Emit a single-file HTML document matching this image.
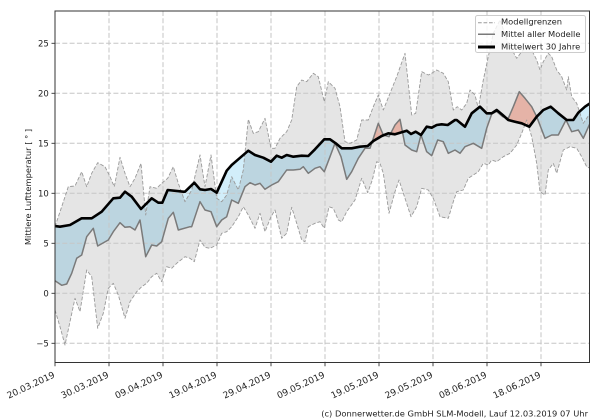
<!DOCTYPE html>
<html>
<head>
<meta charset="utf-8">
<style>
  html, body { margin: 0; padding: 0; background: #ffffff; }
  body { width: 600px; height: 420px; overflow: hidden; }
  svg { display: block; }
  text { font-family: "DejaVu Sans", "Liberation Sans", sans-serif; fill: #222; }
</style>
</head>
<body>
<svg width="600" height="420" viewBox="0 0 600 420" xmlns="http://www.w3.org/2000/svg">
  <defs>
    <clipPath id="plot">
      <rect x="55" y="11" width="534.5" height="351.5"/>
    </clipPath>
    <clipPath id="belowBlack">
      <path d="M55,226 L60,226.7 L70,225 L81.7,218.3 L91.7,218.3 L101.7,211.7 L113.3,198.3 L120,197.7 L125,191.7 L131.7,196.7 L141,209 L151.7,198.3 L158.3,202.7 L162.3,202.7 L167.7,190 L183.3,191.7 L185,191.7 L194.3,182.7 L200,189.3 L205,190 L211,189 L216.7,192.7 L226.7,170.7 L231.7,165 L238.3,159.3 L248.3,150.7 L255,155 L263.3,157.7 L271,161.7 L276.7,155.7 L281.7,157.7 L286.7,155 L293.3,156.7 L301.7,155.7 L308.3,156 L315,149.3 L324.3,139.3 L330,139.3 L335.7,143.3 L341.7,148.3 L351.7,148.3 L360,146.7 L367.7,146 L373.3,141 L381.7,136 L388.3,133.3 L395,134.3 L401.7,132.3 L406.7,130.7 L411,134 L415.7,131.7 L421,135 L426.7,126.7 L431.7,127.7 L436.7,125 L441.7,124.3 L447.7,125 L455,120 L456.7,120 L465,126.7 L471.7,113.3 L480,106.7 L486.7,113.3 L491.7,113.3 L496.7,110 L502.7,115 L508.3,120 L515,121.7 L521.7,123.3 L529.3,126.7 L536.7,116.7 L543.3,110 L550.7,106.7 L558.3,113.3 L566.7,120 L573.3,120 L578.3,112.7 L585,106.7 L590,103.3 L590,363 L55,363 Z"/>
    </clipPath>
    <clipPath id="aboveBlack">
      <path d="M55,226 L60,226.7 L70,225 L81.7,218.3 L91.7,218.3 L101.7,211.7 L113.3,198.3 L120,197.7 L125,191.7 L131.7,196.7 L141,209 L151.7,198.3 L158.3,202.7 L162.3,202.7 L167.7,190 L183.3,191.7 L185,191.7 L194.3,182.7 L200,189.3 L205,190 L211,189 L216.7,192.7 L226.7,170.7 L231.7,165 L238.3,159.3 L248.3,150.7 L255,155 L263.3,157.7 L271,161.7 L276.7,155.7 L281.7,157.7 L286.7,155 L293.3,156.7 L301.7,155.7 L308.3,156 L315,149.3 L324.3,139.3 L330,139.3 L335.7,143.3 L341.7,148.3 L351.7,148.3 L360,146.7 L367.7,146 L373.3,141 L381.7,136 L388.3,133.3 L395,134.3 L401.7,132.3 L406.7,130.7 L411,134 L415.7,131.7 L421,135 L426.7,126.7 L431.7,127.7 L436.7,125 L441.7,124.3 L447.7,125 L455,120 L456.7,120 L465,126.7 L471.7,113.3 L480,106.7 L486.7,113.3 L491.7,113.3 L496.7,110 L502.7,115 L508.3,120 L515,121.7 L521.7,123.3 L529.3,126.7 L536.7,116.7 L543.3,110 L550.7,106.7 L558.3,113.3 L566.7,120 L573.3,120 L578.3,112.7 L585,106.7 L590,103.3 L590,10 L55,10 Z"/>
    </clipPath>
  </defs>

  <g clip-path="url(#plot)">
    <!-- between black and mean: blue where mean below black -->
    <g clip-path="url(#belowBlack)">
      <path fill="#d2eefa" d="M55,226 L60,226.7 L70,225 L81.7,218.3 L91.7,218.3 L101.7,211.7 L113.3,198.3 L120,197.7 L125,191.7 L131.7,196.7 L141,209 L151.7,198.3 L158.3,202.7 L162.3,202.7 L167.7,190 L183.3,191.7 L185,191.7 L194.3,182.7 L200,189.3 L205,190 L211,189 L216.7,192.7 L226.7,170.7 L231.7,165 L238.3,159.3 L248.3,150.7 L255,155 L263.3,157.7 L271,161.7 L276.7,155.7 L281.7,157.7 L286.7,155 L293.3,156.7 L301.7,155.7 L308.3,156 L315,149.3 L324.3,139.3 L330,139.3 L335.7,143.3 L341.7,148.3 L351.7,148.3 L360,146.7 L367.7,146 L373.3,141 L381.7,136 L388.3,133.3 L395,134.3 L401.7,132.3 L406.7,130.7 L411,134 L415.7,131.7 L421,135 L426.7,126.7 L431.7,127.7 L436.7,125 L441.7,124.3 L447.7,125 L455,120 L456.7,120 L465,126.7 L471.7,113.3 L480,106.7 L486.7,113.3 L491.7,113.3 L496.7,110 L502.7,115 L508.3,120 L515,121.7 L521.7,123.3 L529.3,126.7 L536.7,116.7 L543.3,110 L550.7,106.7 L558.3,113.3 L566.7,120 L573.3,120 L578.3,112.7 L585,106.7 L590,103.3 L590,123.3 L583.3,138.3 L578.3,130 L571.7,131.7 L566,120 L558.3,135 L551.7,135 L545,138.3 L536.7,116.7 L531.7,106.7 L525,98.3 L519.3,91.7 L513.3,106.7 L508.3,118.3 L502.7,116.7 L496.7,111.5 L491.7,114 L486.7,128.3 L481.7,148.3 L473.3,143.3 L465,146.7 L460,153.3 L455,150 L448.3,153.3 L443.3,141.7 L437.7,140 L431.7,155.7 L426.7,151.7 L421,135 L416.7,151.7 L411.7,150 L405,145 L400,119.3 L395,125 L389,136.7 L383.3,135 L378.3,123.3 L370,148.3 L365,148.3 L358.3,158.3 L351.7,171.7 L346.7,179.3 L341,156.7 L335,143.3 L330,156.7 L324.3,171.7 L320,166.7 L315,168.3 L308.3,173.3 L303.3,166.7 L300,169.3 L293.3,170 L286.7,170 L278.3,181.7 L271.7,185 L265,189.3 L260,183.3 L255,185 L250,182.7 L245,186.7 L238.3,203.3 L231.7,200 L226.7,216.7 L221.7,220 L216.7,226.7 L211,211.7 L205,210 L200,201.7 L191.7,226.7 L190,226.7 L178.3,230 L173.3,212.3 L168.3,218.3 L161.7,241.7 L156.7,246 L151.7,245 L145.7,256.7 L140,220 L135,230 L130,226.7 L125,227.3 L120,222.7 L113.3,231.7 L108.3,240 L97.7,246 L93.3,228.3 L86.7,236.7 L81.7,255 L76.7,258.3 L71.7,273.3 L66.7,284 L61.7,285.3 L55,280.7 Z"/>
    </g>
    <g clip-path="url(#aboveBlack)">
      <path fill="#ffc8ba" d="M55,226 L60,226.7 L70,225 L81.7,218.3 L91.7,218.3 L101.7,211.7 L113.3,198.3 L120,197.7 L125,191.7 L131.7,196.7 L141,209 L151.7,198.3 L158.3,202.7 L162.3,202.7 L167.7,190 L183.3,191.7 L185,191.7 L194.3,182.7 L200,189.3 L205,190 L211,189 L216.7,192.7 L226.7,170.7 L231.7,165 L238.3,159.3 L248.3,150.7 L255,155 L263.3,157.7 L271,161.7 L276.7,155.7 L281.7,157.7 L286.7,155 L293.3,156.7 L301.7,155.7 L308.3,156 L315,149.3 L324.3,139.3 L330,139.3 L335.7,143.3 L341.7,148.3 L351.7,148.3 L360,146.7 L367.7,146 L373.3,141 L381.7,136 L388.3,133.3 L395,134.3 L401.7,132.3 L406.7,130.7 L411,134 L415.7,131.7 L421,135 L426.7,126.7 L431.7,127.7 L436.7,125 L441.7,124.3 L447.7,125 L455,120 L456.7,120 L465,126.7 L471.7,113.3 L480,106.7 L486.7,113.3 L491.7,113.3 L496.7,110 L502.7,115 L508.3,120 L515,121.7 L521.7,123.3 L529.3,126.7 L536.7,116.7 L543.3,110 L550.7,106.7 L558.3,113.3 L566.7,120 L573.3,120 L578.3,112.7 L585,106.7 L590,103.3 L590,123.3 L583.3,138.3 L578.3,130 L571.7,131.7 L566,120 L558.3,135 L551.7,135 L545,138.3 L536.7,116.7 L531.7,106.7 L525,98.3 L519.3,91.7 L513.3,106.7 L508.3,118.3 L502.7,116.7 L496.7,111.5 L491.7,114 L486.7,128.3 L481.7,148.3 L473.3,143.3 L465,146.7 L460,153.3 L455,150 L448.3,153.3 L443.3,141.7 L437.7,140 L431.7,155.7 L426.7,151.7 L421,135 L416.7,151.7 L411.7,150 L405,145 L400,119.3 L395,125 L389,136.7 L383.3,135 L378.3,123.3 L370,148.3 L365,148.3 L358.3,158.3 L351.7,171.7 L346.7,179.3 L341,156.7 L335,143.3 L330,156.7 L324.3,171.7 L320,166.7 L315,168.3 L308.3,173.3 L303.3,166.7 L300,169.3 L293.3,170 L286.7,170 L278.3,181.7 L271.7,185 L265,189.3 L260,183.3 L255,185 L250,182.7 L245,186.7 L238.3,203.3 L231.7,200 L226.7,216.7 L221.7,220 L216.7,226.7 L211,211.7 L205,210 L200,201.7 L191.7,226.7 L190,226.7 L178.3,230 L173.3,212.3 L168.3,218.3 L161.7,241.7 L156.7,246 L151.7,245 L145.7,256.7 L140,220 L135,230 L130,226.7 L125,227.3 L120,222.7 L113.3,231.7 L108.3,240 L97.7,246 L93.3,228.3 L86.7,236.7 L81.7,255 L76.7,258.3 L71.7,273.3 L66.7,284 L61.7,285.3 L55,280.7 Z"/>
    </g>

    <!-- model range band -->
    <path fill="#000000" fill-opacity="0.1" d="M55,226.7 L61.7,206.7 L68.3,186.7 L75,186 L81.7,171.7 L86.7,186.7 L91.7,173.3 L97.7,162.7 L105,166.7 L110,176.7 L114.3,186.7 L120,157.3 L125,173.3 L130,186.7 L135,178.3 L141,163.3 L145.7,215 L150,186.7 L156.7,188.3 L161.7,183.3 L167.7,178.3 L173.3,166.7 L178.3,183.3 L185,201.7 L191.7,190 L200,155 L205,186.7 L211,155 L216.7,198.3 L221.7,201.7 L226.7,195 L231.7,176.7 L238.3,190 L243.3,170 L248.3,119.3 L253.3,133.3 L258.3,131.7 L265,118.3 L271,148.3 L275,148.3 L280,138.3 L286.7,131.7 L291.7,120 L296.7,86.7 L301.7,80 L306.7,81.7 L313.3,73.3 L318.3,76.7 L324.3,101.7 L328.3,81.7 L335,88.3 L340,106.7 L345,141.7 L350,143.3 L356.7,140 L361.7,120 L368.3,120 L373.3,106.7 L378.3,95 L383.3,110 L390,93.3 L396.7,76.7 L405,53.3 L411.7,115 L415.7,113.3 L421.7,71.7 L428.3,75 L431.7,73.3 L436.7,70 L443.3,73.3 L448.3,81.7 L453.3,110 L457.3,106.7 L461.7,110 L466.7,103.3 L470,90 L475,95 L478.3,108.3 L483.3,80 L488.3,56.7 L493.3,33.3 L500,20 L508.3,43.3 L516.7,58.3 L521.7,51.7 L528.3,45 L533.3,53.3 L536.7,60 L540,70 L543.3,61.7 L548.3,53.3 L551.7,56.7 L556.7,70 L561.7,76.7 L566.7,90 L568.3,76.7 L571.7,96.7 L576.7,103.3 L583.3,123.3 L590,113.3 L590,168.3 L586.7,166.7 L581.7,156.7 L576.7,148.3 L570,146.7 L563.3,150 L556.7,173.3 L553.3,163.3 L548.3,170 L545,195 L540,191.7 L536.7,163.3 L531.7,136.7 L526.7,120 L521.7,133.3 L516.7,145 L510,153.3 L503.3,156.7 L496.7,161.7 L491.7,160 L488.3,165 L483.3,163.3 L478.3,171.7 L473.3,175 L468.3,178.3 L463.3,190 L456.7,191.7 L453.3,201.7 L448.3,218.3 L440,216.7 L433.3,198.3 L428.3,190 L421.7,188.3 L416.7,206.7 L411,216.7 L405,198.3 L399,180 L395,191.7 L389,213.3 L383.3,173.3 L380,163.3 L376.7,161.7 L372.3,180 L367.7,192.7 L361.7,178.3 L355,200 L346.7,211.7 L341.7,221.7 L338.3,220 L333.3,208.3 L329,206.7 L324.3,228.3 L320,221.7 L315,223.3 L308.3,226.7 L305,241.7 L301.7,240 L296.7,223.3 L291.7,207.3 L286.7,233.3 L281.7,238.3 L275,210 L271,216.7 L265,231.7 L260,213.3 L255,228.3 L248.3,215 L243.3,206.7 L238.3,216.7 L231.7,226.7 L226.7,231.7 L221.7,233.3 L216.7,245 L210,248.3 L205,247.3 L200,240 L194.3,261.7 L190,258.3 L185,256.7 L176.7,263.3 L171.7,268.3 L166.7,266.7 L161.7,281.7 L156.7,273.3 L151.7,276.7 L146.7,283.3 L141.7,286.7 L136.7,291.7 L130,301.7 L125,318.3 L118.3,295 L113.3,283.3 L108.3,288.3 L103.3,313.3 L97.7,328.3 L91.7,276.7 L86.7,270 L80,311.7 L75,298.3 L70,321.7 L65,345 L60,326.7 L55,310 Z"/>

    <!-- grid -->
    <g stroke="#c6c6c6" stroke-width="1" stroke-dasharray="5 2.3" fill="none">
      <line x1="55" y1="343.3" x2="590" y2="343.3"/>
      <line x1="55" y1="293.3" x2="590" y2="293.3"/>
      <line x1="55" y1="243.3" x2="590" y2="243.3"/>
      <line x1="55" y1="193.3" x2="590" y2="193.3"/>
      <line x1="55" y1="143.3" x2="590" y2="143.3"/>
      <line x1="55" y1="93.3" x2="590" y2="93.3"/>
      <line x1="55" y1="43.3" x2="590" y2="43.3"/>
      <line x1="109" y1="11" x2="109" y2="362"/>
      <line x1="163" y1="11" x2="163" y2="362"/>
      <line x1="217" y1="11" x2="217" y2="362"/>
      <line x1="271" y1="11" x2="271" y2="362"/>
      <line x1="325" y1="11" x2="325" y2="362"/>
      <line x1="379" y1="11" x2="379" y2="362"/>
      <line x1="433" y1="11" x2="433" y2="362"/>
      <line x1="487" y1="11" x2="487" y2="362"/>
      <line x1="541" y1="11" x2="541" y2="362"/>
    </g>

    <!-- model bounds (dashed) -->
    <g fill="none" stroke="#9a9a9a" stroke-width="0.9" stroke-dasharray="3.7 1.8" stroke-linejoin="round">
      <polyline points="55,226.7 61.7,206.7 68.3,186.7 75,186 81.7,171.7 86.7,186.7 91.7,173.3 97.7,162.7 105,166.7 110,176.7 114.3,186.7 120,157.3 125,173.3 130,186.7 135,178.3 141,163.3 145.7,215 150,186.7 156.7,188.3 161.7,183.3 167.7,178.3 173.3,166.7 178.3,183.3 185,201.7 191.7,190 200,155 205,186.7 211,155 216.7,198.3 221.7,201.7 226.7,195 231.7,176.7 238.3,190 243.3,170 248.3,119.3 253.3,133.3 258.3,131.7 265,118.3 271,148.3 275,148.3 280,138.3 286.7,131.7 291.7,120 296.7,86.7 301.7,80 306.7,81.7 313.3,73.3 318.3,76.7 324.3,101.7 328.3,81.7 335,88.3 340,106.7 345,141.7 350,143.3 356.7,140 361.7,120 368.3,120 373.3,106.7 378.3,95 383.3,110 390,93.3 396.7,76.7 405,53.3 411.7,115 415.7,113.3 421.7,71.7 428.3,75 431.7,73.3 436.7,70 443.3,73.3 448.3,81.7 453.3,110 457.3,106.7 461.7,110 466.7,103.3 470,90 475,95 478.3,108.3 483.3,80 488.3,56.7 493.3,33.3 500,20 508.3,43.3 516.7,58.3 521.7,51.7 528.3,45 533.3,53.3 536.7,60 540,70 543.3,61.7 548.3,53.3 551.7,56.7 556.7,70 561.7,76.7 566.7,90 568.3,76.7 571.7,96.7 576.7,103.3 583.3,123.3 590,113.3"/>
      <polyline points="55,310 60,326.7 65,345 70,321.7 75,298.3 80,311.7 86.7,270 91.7,276.7 97.7,328.3 103.3,313.3 108.3,288.3 113.3,283.3 118.3,295 125,318.3 130,301.7 136.7,291.7 141.7,286.7 146.7,283.3 151.7,276.7 156.7,273.3 161.7,281.7 166.7,266.7 171.7,268.3 176.7,263.3 185,256.7 190,258.3 194.3,261.7 200,240 205,247.3 210,248.3 216.7,245 221.7,233.3 226.7,231.7 231.7,226.7 238.3,216.7 243.3,206.7 248.3,215 255,228.3 260,213.3 265,231.7 271,216.7 275,210 281.7,238.3 286.7,233.3 291.7,207.3 296.7,223.3 301.7,240 305,241.7 308.3,226.7 315,223.3 320,221.7 324.3,228.3 329,206.7 333.3,208.3 338.3,220 341.7,221.7 346.7,211.7 355,200 361.7,178.3 367.7,192.7 372.3,180 376.7,161.7 380,163.3 383.3,173.3 389,213.3 395,191.7 399,180 405,198.3 411,216.7 416.7,206.7 421.7,188.3 428.3,190 433.3,198.3 440,216.7 448.3,218.3 453.3,201.7 456.7,191.7 463.3,190 468.3,178.3 473.3,175 478.3,171.7 483.3,163.3 488.3,165 491.7,160 496.7,161.7 503.3,156.7 510,153.3 516.7,145 521.7,133.3 526.7,120 531.7,136.7 536.7,163.3 540,191.7 545,195 548.3,170 553.3,163.3 556.7,173.3 563.3,150 570,146.7 576.7,148.3 581.7,156.7 586.7,166.7 590,168.3"/>
    </g>

    <!-- mean of all models -->
    <polyline fill="none" stroke="#7a7a7a" stroke-width="1.5" stroke-linejoin="round" points="55,280.7 61.7,285.3 66.7,284 71.7,273.3 76.7,258.3 81.7,255 86.7,236.7 93.3,228.3 97.7,246 108.3,240 113.3,231.7 120,222.7 125,227.3 130,226.7 135,230 140,220 145.7,256.7 151.7,245 156.7,246 161.7,241.7 168.3,218.3 173.3,212.3 178.3,230 190,226.7 191.7,226.7 200,201.7 205,210 211,211.7 216.7,226.7 221.7,220 226.7,216.7 231.7,200 238.3,203.3 245,186.7 250,182.7 255,185 260,183.3 265,189.3 271.7,185 278.3,181.7 286.7,170 293.3,170 300,169.3 303.3,166.7 308.3,173.3 315,168.3 320,166.7 324.3,171.7 330,156.7 335,143.3 341,156.7 346.7,179.3 351.7,171.7 358.3,158.3 365,148.3 370,148.3 378.3,123.3 383.3,135 389,136.7 395,125 400,119.3 405,145 411.7,150 416.7,151.7 421,135 426.7,151.7 431.7,155.7 437.7,140 443.3,141.7 448.3,153.3 455,150 460,153.3 465,146.7 473.3,143.3 481.7,148.3 486.7,128.3 491.7,114 496.7,111.5 502.7,116.7 508.3,118.3 513.3,106.7 519.3,91.7 525,98.3 531.7,106.7 536.7,116.7 545,138.3 551.7,135 558.3,135 566,120 571.7,131.7 578.3,130 583.3,138.3 590,123.3"/>

    <!-- 30-year mean -->
    <polyline fill="none" stroke="#000000" stroke-width="2.6" stroke-linejoin="round" stroke-linecap="round" points="55,226 60,226.7 70,225 81.7,218.3 91.7,218.3 101.7,211.7 113.3,198.3 120,197.7 125,191.7 131.7,196.7 141,209 151.7,198.3 158.3,202.7 162.3,202.7 167.7,190 183.3,191.7 185,191.7 194.3,182.7 200,189.3 205,190 211,189 216.7,192.7 226.7,170.7 231.7,165 238.3,159.3 248.3,150.7 255,155 263.3,157.7 271,161.7 276.7,155.7 281.7,157.7 286.7,155 293.3,156.7 301.7,155.7 308.3,156 315,149.3 324.3,139.3 330,139.3 335.7,143.3 341.7,148.3 351.7,148.3 360,146.7 367.7,146 373.3,141 381.7,136 388.3,133.3 395,134.3 401.7,132.3 406.7,130.7 411,134 415.7,131.7 421,135 426.7,126.7 431.7,127.7 436.7,125 441.7,124.3 447.7,125 455,120 456.7,120 465,126.7 471.7,113.3 480,106.7 486.7,113.3 491.7,113.3 496.7,110 502.7,115 508.3,120 515,121.7 521.7,123.3 529.3,126.7 536.7,116.7 543.3,110 550.7,106.7 558.3,113.3 566.7,120 573.3,120 578.3,112.7 585,106.7 590,103.3"/>
  </g>

  <!-- spines -->
  <rect x="55" y="11" width="534.5" height="351.5" fill="none" stroke="#333333" stroke-width="1"/>

  <!-- ticks -->
  <g stroke="#333333" stroke-width="0.9">
    <line x1="51.5" y1="343.3" x2="55" y2="343.3"/>
    <line x1="51.5" y1="293.3" x2="55" y2="293.3"/>
    <line x1="51.5" y1="243.3" x2="55" y2="243.3"/>
    <line x1="51.5" y1="193.3" x2="55" y2="193.3"/>
    <line x1="51.5" y1="143.3" x2="55" y2="143.3"/>
    <line x1="51.5" y1="93.3" x2="55" y2="93.3"/>
    <line x1="51.5" y1="43.3" x2="55" y2="43.3"/>
    <line x1="55" y1="362.5" x2="55" y2="366.2"/>
    <line x1="109" y1="362.5" x2="109" y2="366.2"/>
    <line x1="163" y1="362.5" x2="163" y2="366.2"/>
    <line x1="217" y1="362.5" x2="217" y2="366.2"/>
    <line x1="271" y1="362.5" x2="271" y2="366.2"/>
    <line x1="325" y1="362.5" x2="325" y2="366.2"/>
    <line x1="379" y1="362.5" x2="379" y2="366.2"/>
    <line x1="433" y1="362.5" x2="433" y2="366.2"/>
    <line x1="487" y1="362.5" x2="487" y2="366.2"/>
    <line x1="541" y1="362.5" x2="541" y2="366.2"/>
  </g>

  <!-- y tick labels -->
  <g font-size="8.5" text-anchor="end">
    <text x="48.8" y="346.3">−5</text>
    <text x="48.8" y="296.3">0</text>
    <text x="48.8" y="246.3">5</text>
    <text x="48.8" y="196.3">10</text>
    <text x="48.8" y="146.3">15</text>
    <text x="48.8" y="96.3">20</text>
    <text x="48.8" y="46.3">25</text>
  </g>

  <!-- x tick labels -->
  <g font-size="9" text-anchor="end">
    <text x="55.5" y="377" transform="rotate(-25 55.5 377)">20.03.2019</text>
    <text x="109.5" y="377" transform="rotate(-25 109.5 377)">30.03.2019</text>
    <text x="163.5" y="377" transform="rotate(-25 163.5 377)">09.04.2019</text>
    <text x="217.5" y="377" transform="rotate(-25 217.5 377)">19.04.2019</text>
    <text x="271.5" y="377" transform="rotate(-25 271.5 377)">29.04.2019</text>
    <text x="325.5" y="377" transform="rotate(-25 325.5 377)">09.05.2019</text>
    <text x="379.5" y="377" transform="rotate(-25 379.5 377)">19.05.2019</text>
    <text x="433.5" y="377" transform="rotate(-25 433.5 377)">29.05.2019</text>
    <text x="487.5" y="377" transform="rotate(-25 487.5 377)">08.06.2019</text>
    <text x="541.5" y="377" transform="rotate(-25 541.5 377)">18.06.2019</text>
  </g>

  <!-- y axis label -->
  <text font-size="8.33" text-anchor="middle" transform="translate(31 187) rotate(-90)">Mittlere Lufttemperatur [ ° ]</text>

  <!-- legend -->
  <rect x="475.5" y="15.5" width="110" height="37" rx="2" ry="2" fill="#ffffff" fill-opacity="0.8" stroke="#cccccc" stroke-width="1"/>
  <line x1="478" y1="22.7" x2="495" y2="22.7" stroke="#9a9a9a" stroke-width="1" stroke-dasharray="3.7 1.8"/>
  <line x1="478" y1="34.3" x2="495" y2="34.3" stroke="#7a7a7a" stroke-width="1.5"/>
  <line x1="478" y1="47" x2="495" y2="47" stroke="#000000" stroke-width="3"/>
  <g font-size="8.33">
    <text x="501" y="24.6">Modellgrenzen</text>
    <text x="501" y="37">Mittel aller Modelle</text>
    <text x="501" y="49.4">Mittelwert 30 Jahre</text>
  </g>

  <!-- footer -->
  <text font-size="8.33" x="588" y="416.3" text-anchor="end">(c) Donnerwetter.de GmbH SLM-Modell, Lauf 12.03.2019 07 Uhr</text>
</svg>
</body>
</html>
